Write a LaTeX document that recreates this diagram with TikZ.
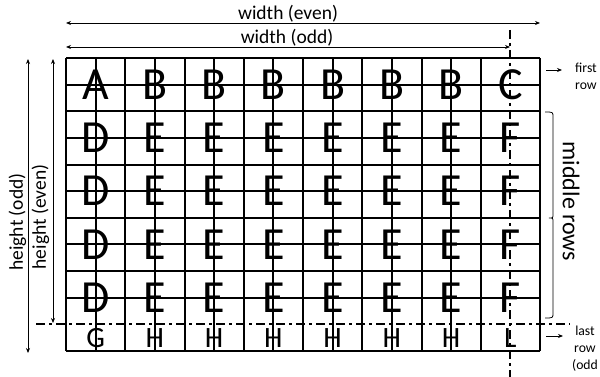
\documentclass[tikz,border=0pt]{standalone}
\usepackage{fontspec}
\setmainfont{Carlito}
\usetikzlibrary{arrows.meta}

\begin{document}
\begin{tikzpicture}[x=1pt, y=-1pt,
    gridline/.style={line width=2pt},
    cut/.style={line width=2pt, dash pattern=on 9pt off 4pt on 3pt off 4pt},
    dim/.style={{Stealth[length=5pt,width=4pt]}-{Stealth[length=5pt,width=4pt]}, line width=0.8pt},
    tag/.style={-{Stealth[length=5pt,width=4pt]}, line width=0.8pt},
    lbl/.style={font=\fontsize{19.5}{22}\selectfont, inner sep=0pt},
    note/.style={font=\fontsize{13.7}{17}\selectfont, align=center, inner sep=0pt, anchor=north},
    big/.style={font=\fontsize{46}{50}\selectfont, inner sep=0pt},
    small/.style={font=\fontsize{29.5}{32}\selectfont, inner sep=0pt}
]
\useasboundingbox (0,0) rectangle (600,377);
\foreach \i in {0,...,14,16}
  \draw[gridline] (66+29.625*\i,58) -- (66+29.625*\i,351);
\foreach \j in {0,...,9,11}
  \draw[gridline] (66,58+26.636*\j) -- (540,58+26.636*\j);
\coordinate (cutT) at (510.4,30);
\coordinate (cutB) at (510.4,377);
\coordinate (cutL) at (36,324.4);
\coordinate (cutR) at (570,324.4);
\draw[cut] (cutT) -- (cutB);
\draw[cut] (cutL) -- (cutR);

\foreach \c [count=\k] in {A,B,B,B,B,B,B,C}
  \node[big] (top\k) at (36.375+59.25*\k,84.6) {\c};
\foreach \r in {1,...,4}
  \foreach \c [count=\k] in {D,E,E,E,E,E,E,F}
    \node[big] (mid\r-\k) at (36.375+59.25*\k,84.6+53.27*\r) {\c};
\foreach \c [count=\k] in {G,H,H,H,H,H,H,L}
  \node[small] (bot\k) at (36.375+59.25*\k,337.7) {\c};

\coordinate (wevenL) at (66,23);
\coordinate (wevenR) at (540,23);
\coordinate (woddL) at (66,47);
\coordinate (woddR) at (510,47);
\coordinate (hoddT) at (28,59);
\coordinate (hoddB) at (28,353);
\coordinate (hevenT) at (53,59);
\coordinate (hevenB) at (53,323);
\draw[dim] (wevenL) -- (wevenR);
\draw[dim] (woddL) -- (woddR);
\draw[dim] (hoddT) -- (hoddB);
\draw[dim] (hevenT) -- (hevenB);
\node[lbl] (weven) at (288,14) {width (even)};
\node[lbl] (wodd) at (287,37.5) {width (odd)};
\node[lbl, rotate=90] (hodd) at (17.5,222) {height (odd)};
\node[lbl, rotate=90] (heven) at (40.5,217) {height (even)};

\coordinate (firstA) at (546,70);
\coordinate (firstB) at (562,70);
\coordinate (lastA) at (546,336);
\coordinate (lastB) at (563,336);
\draw[tag] (firstA) -- (firstB);
\draw[tag] (lastA) -- (lastB);
\node[note] (first) at (586,62.5) {first\\row};
\node[note] (last) at (585,325.5) {last\\row\\(odd};

\draw[line width=0.8pt] (545,112) .. controls (553,112) .. (553,117) -- (553,214)
  .. controls (553,218) .. (549,218) .. controls (553,218) .. (553,222) -- (553,313)
  .. controls (553,318) .. (545,318);
\node[font=\fontsize{24}{26}\selectfont, inner sep=0pt, rotate=-90] (middle) at (571,201.5) {middle rows};
\end{tikzpicture}
\end{document}
